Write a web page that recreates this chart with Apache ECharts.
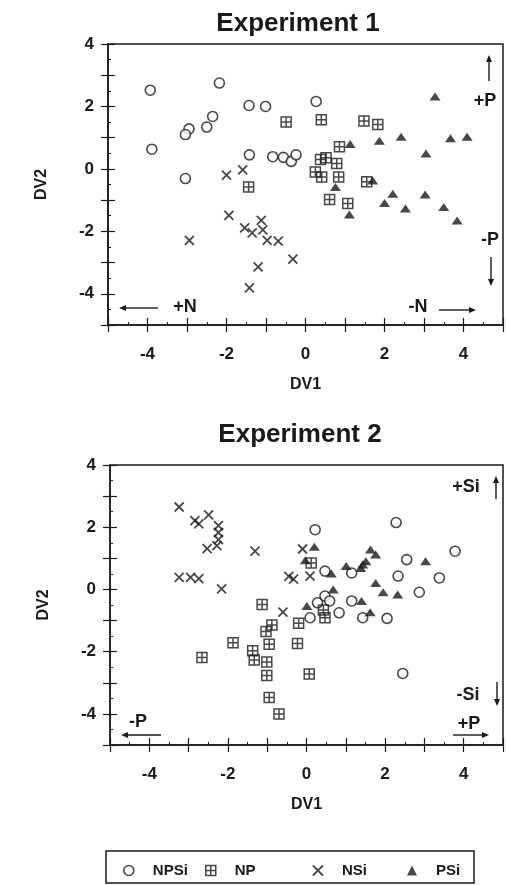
<!DOCTYPE html>
<html>
<head>
<meta charset="utf-8">
<script src="https://cdn.jsdelivr.net/npm/echarts@6/dist/echarts.min.js"></script>
<style>
	html, body { margin: 0; padding: 0; background: #fff; }
	#chart { width: 506px; height: 885px; }
</style>
</head>
<body>
<div id="chart"></div>
<script>
// Experiment 1 discriminant scores [DV1, DV2]
const e1NPSi = [[-3.93, 2.52], [-2.18, 2.75], [-1.43, 2.03], [-1.01, 2.0], [-2.35, 1.68], [-2.5, 1.34], [-2.95, 1.28], [-3.04, 1.1], [-3.89, 0.63], [-1.42, 0.45], [-0.83, 0.39], [-0.56, 0.37], [-0.36, 0.24], [-0.24, 0.45], [-3.04, -0.31], [0.27, 2.16]]
const e1NP = [[-0.49, 1.5], [0.4, 1.57], [1.48, 1.53], [1.83, 1.42], [0.86, 0.71], [0.38, 0.3], [0.52, 0.36], [0.79, 0.17], [0.25, -0.1], [0.41, -0.26], [0.84, -0.26], [1.55, -0.41], [0.61, -0.98], [1.07, -1.11], [-1.44, -0.58]]
const e1NSi = [[-2.0, -0.2], [-1.59, -0.03], [-1.94, -1.49], [-2.94, -2.29], [-1.54, -1.89], [-1.35, -2.05], [-1.12, -1.65], [-1.08, -1.95], [-0.97, -2.29], [-0.69, -2.31], [-1.2, -3.14], [-1.42, -3.81], [-0.32, -2.89]]
const e1PSi = [[1.13, 0.8], [1.87, 0.9], [2.42, 1.03], [3.28, 2.32], [3.67, 0.98], [4.09, 1.03], [3.05, 0.49], [0.76, -0.58], [1.7, -0.37], [1.11, -1.46], [2.21, -0.8], [2.0, -1.09], [2.53, -1.27], [3.03, -0.82], [3.5, -1.22], [3.84, -1.65]]

// Experiment 2
const e2NPSi = [[0.22, 1.92], [0.47, 0.59], [1.15, 0.53], [2.28, 2.15], [2.55, 0.96], [3.78, 1.23], [2.33, 0.43], [3.38, 0.37], [2.87, -0.09], [0.28, -0.43], [0.47, -0.21], [0.59, -0.37], [1.15, -0.37], [0.09, -0.91], [0.83, -0.75], [1.43, -0.91], [2.05, -0.93], [2.45, -2.7]]
const e2NP = [[0.12, 0.85], [0.43, -0.66], [0.47, -0.91], [-0.2, -1.09], [-0.23, -1.74], [0.07, -2.72], [-1.13, -0.48], [-0.88, -1.14], [-1.03, -1.35], [-0.95, -1.76], [-1.87, -1.71], [-1.37, -1.97], [-1.33, -2.27], [-1.01, -2.33], [-2.66, -2.19], [-1.01, -2.77], [-0.95, -3.47], [-0.7, -4.0]]
const e2NSi = [[-3.24, 2.65], [-2.84, 2.21], [-2.74, 2.11], [-2.49, 2.4], [-2.24, 2.05], [-2.24, 1.83], [-2.24, 1.6], [-2.28, 1.41], [-2.53, 1.31], [-1.31, 1.23], [-3.24, 0.39], [-2.95, 0.39], [-2.74, 0.35], [-2.16, 0.02], [-0.45, 0.42], [-0.33, 0.33], [0.09, 0.43], [-0.1, 1.3], [-0.6, -0.73]]
const e2PSi = [[0.2, 1.37], [-0.03, 0.94], [0.63, 0.51], [1.01, 0.75], [1.43, 0.8], [1.51, 0.91], [1.38, 0.69], [1.63, 1.28], [1.76, 1.12], [3.03, 0.91], [1.76, 0.21], [1.95, -0.09], [2.32, -0.16], [0.68, 0.0], [1.4, -0.37], [0.01, -0.53], [1.62, -0.73]]

const groupNames = ['NPSi', 'NP', 'NSi', 'PSi']
const titles = ['Experiment 1', 'Experiment 2']
const xRange = [-5, 5]
const yRange = [-5, 4]

const INK = '#1a1a1a'
const FONT = '"Liberation Sans", Arial, sans-serif'

const symbols = {
	NPSi: 'circle',
	NP: 'path://M0,0H10V10H0ZM5,0V10M0,5H10',
	NSi: 'path://M0,0L10,10M10,0L0,10',
	PSi: 'triangle',
}
const styles = {
	NPSi: { color: '#fff', borderColor: INK, borderWidth: 1.6 },
	NP: { color: 'rgba(255,255,255,0)', borderColor: INK, borderWidth: 1.5 },
	NSi: { color: 'rgba(255,255,255,0)', borderColor: INK, borderWidth: 1.8 },
	PSi: { color: INK },
}
const sizes = { NPSi: 10, NP: 10, NSi: 9, PSi: [11, 8] }

const labelFmt = (v) => (v % 2 === 0 ? String(v) : '')

const xAxisFor = (grid, outer) => ({
	type: 'value',
	gridIndex: grid,
	min: xRange[0],
	max: xRange[1],
	interval: 1,
	position: 'bottom',
	name: outer ? 'DV1' : '',
	nameLocation: 'middle',
	nameGap: 52,
	nameTextStyle: { color: INK, fontFamily: FONT, fontWeight: 'bold', fontSize: 16 },
	axisLine: { show: outer, onZero: false, lineStyle: { color: INK, width: 1.5 } },
	axisTick: { show: true, inside: !outer, length: 7, lineStyle: { color: INK, width: 1.2 } },
	minorTick: { show: !outer, splitNumber: 2, length: 3, lineStyle: { color: INK, width: 1 } },
	axisLabel: { show: outer, formatter: labelFmt, margin: 21, color: INK, fontFamily: FONT, fontWeight: 'bold', fontSize: 17 },
	splitLine: { show: false },
})

const yAxisFor = (grid, outer) => ({
	type: 'value',
	gridIndex: grid,
	min: yRange[0],
	max: yRange[1],
	interval: 1,
	position: 'left',
	name: outer ? 'DV2' : '',
	nameLocation: 'middle',
	nameGap: 58,
	nameTextStyle: { color: INK, fontFamily: FONT, fontWeight: 'bold', fontSize: 16 },
	axisLine: { show: outer, onZero: false, lineStyle: { color: INK, width: 1.5 } },
	axisTick: { show: true, inside: !outer, length: 7, lineStyle: { color: INK, width: 1.2 } },
	minorTick: { show: !outer, splitNumber: 2, length: 3, lineStyle: { color: INK, width: 1 } },
	axisLabel: { show: outer, formatter: labelFmt, margin: 14, color: INK, fontFamily: FONT, fontWeight: 'bold', fontSize: 17 },
	splitLine: { show: false },
})

const scatter = (name, data, grid) => ({
	name,
	type: 'scatter',
	xAxisIndex: grid * 2,
	yAxisIndex: grid * 2,
	data,
	symbol: symbols[name],
	symbolSize: sizes[name],
	itemStyle: styles[name],
	silent: true,
	z: name === 'PSi' ? 3 : 2,
})

// annotation helpers (pixel positions)
const txt = (text, x, y, size) => ({
	type: 'text',
	x,
	y,
	style: { text, fill: INK, font: `bold ${size || 18}px ${FONT}`, align: 'center', verticalAlign: 'middle' },
})

const arrow = (x1, y1, x2, y2) => {
	const a = Math.atan2(y2 - y1, x2 - x1)
	const h = 7
	const w = 3
	const bx = x2 - h * Math.cos(a)
	const by = y2 - h * Math.sin(a)
	return [
		{ type: 'line', shape: { x1, y1, x2: bx, y2: by }, style: { stroke: INK, lineWidth: 1.4 } },
		{
			type: 'polygon',
			shape: { points: [[x2, y2], [bx + w * Math.sin(a), by - w * Math.cos(a)], [bx - w * Math.sin(a), by + w * Math.cos(a)]] },
			style: { fill: INK },
		},
	]
}

const legendPos = [118, 200, 307, 402]

const option = {
	backgroundColor: '#fff',
	animation: false,
	grid: [
		{ left: 108, top: 44, width: 395, height: 281, show: true, borderColor: INK, borderWidth: 1.5 },
		{ left: 110, top: 465, width: 394, height: 280, show: true, borderColor: INK, borderWidth: 1.5 },
	],
	xAxis: [xAxisFor(0, true), xAxisFor(0, false), xAxisFor(1, true), xAxisFor(1, false)],
	yAxis: [yAxisFor(0, true), yAxisFor(0, false), yAxisFor(1, true), yAxisFor(1, false)],
	legend: groupNames.map((name, i) => ({
		left: legendPos[i],
		top: 858,
		itemWidth: 10,
		itemHeight: 10,
		selectedMode: false,
		textStyle: { color: INK, fontFamily: FONT, fontWeight: 'bold', fontSize: 15, padding: [0, 0, 0, 14] },
		data: [{ name, icon: symbols[name], itemStyle: styles[name] }],
	})),
	series: [
		scatter('NPSi', e1NPSi, 0),
		scatter('NP', e1NP, 0),
		scatter('NSi', e1NSi, 0),
		scatter('PSi', e1PSi, 0),
		scatter('NPSi', e2NPSi, 1),
		scatter('NP', e2NP, 1),
		scatter('NSi', e2NSi, 1),
		scatter('PSi', e2PSi, 1),
	],
	graphic: [
		txt(titles[0], 298, 24, 26),
		txt(titles[1], 300, 435, 26),
		// experiment 1 direction notes
		txt('+P', 485, 101),
		...arrow(489, 81, 489, 55),
		txt('-P', 490, 240),
		...arrow(491, 257, 491, 286),
		txt('+N', 185, 307),
		...arrow(158, 308, 119, 308),
		txt('-N', 418, 307),
		...arrow(439, 310, 476, 310),
		// experiment 2 direction notes
		txt('+Si', 466, 487),
		...arrow(496, 499, 496, 476),
		txt('-Si', 468, 695),
		...arrow(497, 682, 497, 706),
		txt('+P', 469, 724),
		...arrow(453, 735, 489, 735),
		txt('-P', 138, 722),
		...arrow(161, 735, 121, 735),
		// legend frame
		{ type: 'rect', shape: { x: 106, y: 851, width: 368, height: 32 }, style: { fill: 'none', stroke: INK, lineWidth: 1.5 } },
	],
}

const chart = echarts.init(document.getElementById('chart'))
chart.setOption(option)
</script>
</body>
</html>
